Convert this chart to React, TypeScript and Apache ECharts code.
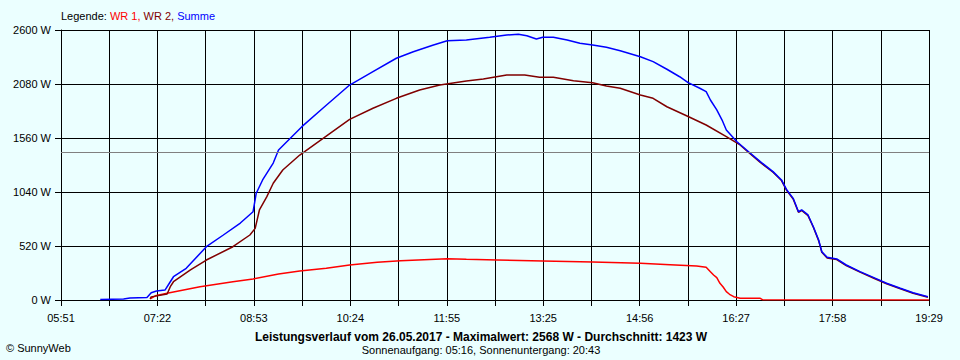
import React, { useEffect, useRef } from "react";
import * as echarts from "echarts";

// x axis: 05:51 .. 19:29, 18 grid steps
const START = "05:51";
const END = "19:29";
const GRID_STEPS = 18;
const Y_TICKS = [0, 520, 1040, 1560, 2080, 2600];
const AVERAGE = 1423;

const TITLE = "Leistungsverlauf vom 26.05.2017 - Maximalwert: 2568 W - Durchschnitt: 1423 W";
const SUBTITLE = "Sonnenaufgang: 05:16, Sonnenuntergang: 20:43";
const COPYRIGHT = "© SunnyWeb";

const WR1: [string, number][] = [
  ["07:15", 10], ["07:20", 40], ["07:31", 65], ["08:02", 128], ["08:33", 176],
  ["08:52", 202], ["09:16", 250], ["09:36", 279], ["10:01", 305], ["10:23", 337],
  ["10:49", 363], ["11:11", 378], ["11:55", 398], ["12:13", 392], ["12:42", 385],
  ["13:25", 376], ["14:12", 366], ["14:57", 353], ["15:25", 340], ["15:50", 327],
  ["15:59", 315], ["16:03", 273], ["16:06", 241], ["16:09", 215], ["16:12", 161],
  ["16:15", 125], ["16:18", 80], ["16:21", 55], ["16:25", 32], ["16:31", 16],
  ["16:50", 16], ["16:52", 3], ["19:29", 0],
];

const WR2: [string, number][] = [
  ["07:15", 10], ["07:16", 30], ["07:31", 58], ["07:34", 128], ["07:37", 176],
  ["07:53", 289], ["08:08", 385], ["08:33", 513], ["08:49", 626], ["08:54", 690],
  ["08:58", 867], ["09:05", 995], ["09:11", 1124], ["09:20", 1252], ["09:36", 1396],
  ["09:58", 1557], ["10:23", 1740], ["10:45", 1846], ["11:07", 1942], ["11:29", 2022],
  ["11:48", 2070], ["12:13", 2109], ["12:29", 2128], ["12:51", 2167], ["13:08", 2167],
  ["13:22", 2145], ["13:35", 2145], ["13:54", 2112], ["14:12", 2093], ["14:25", 2061],
  ["14:38", 2039], ["14:57", 1974], ["15:09", 1942], ["15:22", 1861], ["15:41", 1772],
  ["15:59", 1685], ["16:18", 1573], ["16:31", 1493], ["16:39", 1420], ["16:50", 1325],
  ["17:02", 1230], ["17:10", 1150], ["17:15", 1053], ["17:21", 973], ["17:26", 845],
  ["17:29", 862], ["17:35", 813], ["17:40", 700], ["17:45", 572], ["17:48", 460],
  ["17:53", 405], ["18:02", 390], ["18:11", 332], ["18:24", 268], ["18:37", 210],
  ["18:49", 156], ["19:02", 108], ["19:14", 65], ["19:28", 27],
];

const SUMME: [string, number][] = [
  ["06:28", 5], ["06:50", 10], ["06:56", 20], ["07:12", 25], ["07:16", 70],
  ["07:21", 87], ["07:29", 96], ["07:34", 176], ["07:37", 224], ["07:49", 305],
  ["08:08", 513], ["08:24", 626], ["08:40", 741], ["08:52", 850], ["08:55", 1028],
  ["09:01", 1156], ["09:11", 1319], ["09:16", 1445], ["09:38", 1669], ["09:58", 1849],
  ["10:23", 2070], ["10:45", 2199], ["11:07", 2328], ["11:23", 2391], ["11:42", 2456],
  ["11:55", 2497], ["12:13", 2504], ["12:35", 2530], ["12:51", 2552], ["13:02", 2559],
  ["13:10", 2545], ["13:19", 2513], ["13:25", 2530], ["13:35", 2530], ["13:48", 2504],
  ["14:00", 2472], ["14:12", 2456], ["14:25", 2434], ["14:38", 2401], ["14:57", 2343],
  ["15:09", 2295], ["15:22", 2222], ["15:34", 2150], ["15:42", 2093], ["15:53", 2039],
  ["15:59", 2006], ["16:03", 1926], ["16:09", 1830], ["16:14", 1733], ["16:18", 1637],
  ["16:28", 1524], ["16:39", 1428], ["16:50", 1332], ["17:02", 1236], ["17:10", 1156],
  ["17:15", 1059], ["17:21", 979], ["17:26", 850], ["17:29", 867], ["17:35", 819],
  ["17:40", 706], ["17:45", 578], ["17:48", 465], ["17:53", 411], ["18:02", 395],
  ["18:11", 337], ["18:24", 273], ["18:37", 215], ["18:49", 161], ["19:02", 113],
  ["19:14", 70], ["19:28", 32],
];

const toMin = (t: string) => {
  const [h, m] = t.split(":").map(Number);
  return h * 60 + m;
};
const X0 = toMin(START);
const SPAN = toMin(END) - X0;
const INTERVAL = SPAN / GRID_STEPS;
const toData = (arr: [string, number][]) => arr.map(([t, w]) => [toMin(t) - X0, w]);
const pad = (n: number) => (n < 10 ? "0" + n : "" + n);

const FONT = "Liberation Sans";
const BG = "#EBFFFF";

export default function App() {
  const ref = useRef<HTMLDivElement>(null);
  useEffect(() => {
    if (!ref.current) return;
    const chart = echarts.init(ref.current, null, { renderer: "svg" });
    chart.setOption({
      animation: false,
      backgroundColor: BG,
      textStyle: { fontFamily: FONT },
      grid: { left: 61, right: 31, top: 30, bottom: 60, containLabel: false },
      xAxis: {
        type: "value",
        min: 0,
        max: SPAN,
        interval: INTERVAL,
        axisLine: { show: true, lineStyle: { color: "#000", width: 1 } },
        axisTick: { show: true, length: 6, lineStyle: { color: "#000" } },
        splitLine: { show: true, lineStyle: { color: "#000", width: 1 } },
        axisLabel: {
          color: "#000",
          fontSize: 11,
          fontFamily: FONT,
          margin: 12,
          showMinLabel: true,
          showMaxLabel: true,
          formatter: (v: number) => {
            const k = Math.round(v / INTERVAL);
            if (k % 2 !== 0) return "";
            const m = Math.round(X0 + v);
            return pad(Math.floor(m / 60)) + ":" + pad(m % 60);
          },
        },
      },
      yAxis: {
        type: "value",
        min: Y_TICKS[0],
        max: Y_TICKS[Y_TICKS.length - 1],
        interval: Y_TICKS[1] - Y_TICKS[0],
        axisLine: { show: true, lineStyle: { color: "#000", width: 1 } },
        axisTick: { show: true, length: 6, lineStyle: { color: "#000" } },
        splitLine: { show: true, lineStyle: { color: "#000", width: 1 } },
        axisLabel: {
          color: "#000",
          fontSize: 11,
          fontFamily: FONT,
          margin: 10,
          formatter: (v: number) => v + " W",
        },
      },
      graphic: [
        {
          type: "text",
          left: 61,
          top: 10,
          style: {
            text: "{k|Legende: }{a|WR 1, }{b|WR 2, }{c|Summe}",
            font: `11px "${FONT}"`,
            rich: {
              k: { fill: "#000", fontSize: 11, fontFamily: FONT },
              a: { fill: "#FF0000", fontSize: 11, fontFamily: FONT },
              b: { fill: "#800000", fontSize: 11, fontFamily: FONT },
              c: { fill: "#0000FF", fontSize: 11, fontFamily: FONT },
            },
          },
        },
        {
          type: "text",
          x: 481,
          y: 337,
          style: {
            text: TITLE,
            fill: "#000",
            font: `bold 12px "${FONT}"`,
            align: "center",
            verticalAlign: "middle",
          },
        },
        {
          type: "text",
          x: 481,
          y: 350,
          style: {
            text: SUBTITLE,
            fill: "#000",
            font: `11px "${FONT}"`,
            align: "center",
            verticalAlign: "middle",
          },
        },
        {
          type: "text",
          x: 6,
          y: 348,
          style: {
            text: COPYRIGHT,
            fill: "#000",
            font: `11px "${FONT}"`,
            align: "left",
            verticalAlign: "middle",
          },
        },
      ],
      series: [
        {
          name: "WR 1",
          type: "line",
          data: toData(WR1),
          showSymbol: false,
          lineStyle: { color: "#FF0000", width: 1.5 },
          itemStyle: { color: "#FF0000" },
          markLine: {
            silent: true,
            symbol: ["none", "none"],
            label: { show: false },
            lineStyle: { color: "#808080", type: "solid", width: 1 },
            data: [{ yAxis: AVERAGE }],
          },
        },
        {
          name: "WR 2",
          type: "line",
          data: toData(WR2),
          showSymbol: false,
          lineStyle: { color: "#800000", width: 1.5 },
          itemStyle: { color: "#800000" },
        },
        {
          name: "Summe",
          type: "line",
          data: toData(SUMME),
          showSymbol: false,
          lineStyle: { color: "#0000FF", width: 1.5 },
          itemStyle: { color: "#0000FF" },
        },
      ],
    });
    return () => chart.dispose();
  }, []);
  return (
    <div
      ref={ref}
      style={{ position: "fixed", left: 0, top: 0, width: 960, height: 360, background: BG }}
    />
  );
}
